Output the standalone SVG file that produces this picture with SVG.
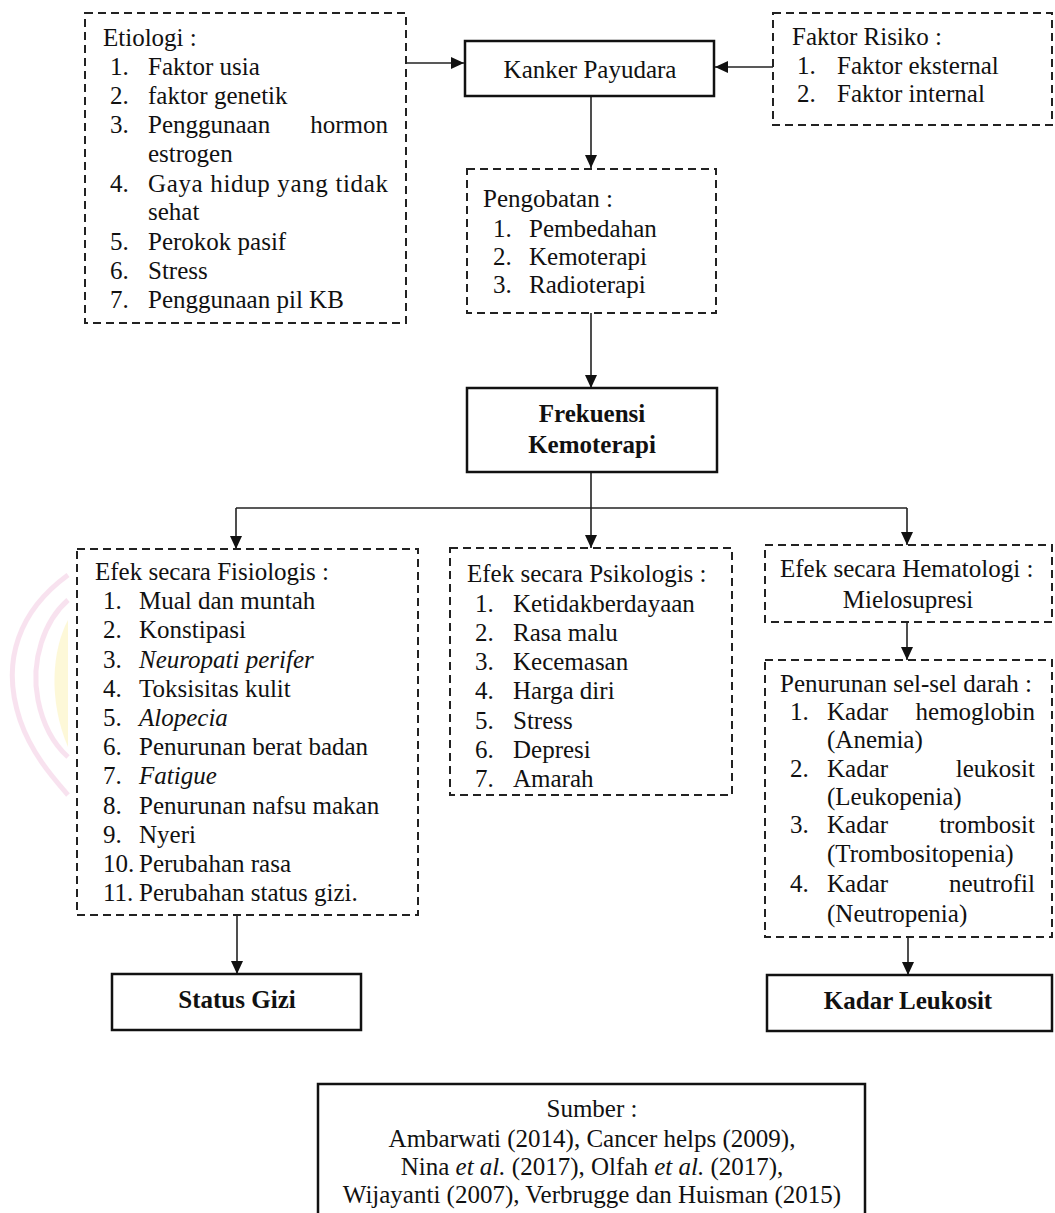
<svg xmlns="http://www.w3.org/2000/svg" width="1055" height="1213" viewBox="0 0 1055 1213">
<style>
.t{font-family:"Liberation Serif","Times New Roman",serif;font-size:25px;fill:#111}
.b{font-weight:bold}
.i{font-style:italic}
.m{text-anchor:middle}
.e{text-anchor:end}
.dash{fill:#fff;stroke:#222;stroke-width:2;stroke-dasharray:8 5}
.solid{fill:#fff;stroke:#111;stroke-width:2.5}
.conn{stroke:#222;stroke-width:1.6;fill:none}
.arr{marker-end:url(#ah)}
</style>
<defs>
<marker id="ah" markerUnits="userSpaceOnUse" markerWidth="14" markerHeight="14" refX="13" refY="6" orient="auto">
<path d="M0,0 L13,6 L0,12 Z" fill="#111"/>
</marker>
</defs>
<rect width="1055" height="1213" fill="#fff"/>
<g id="watermark" opacity="0.4">
<path d="M68,620 C52,650 48,700 68,747 Z" fill="#fbf0a0"/>
<path d="M68,575 C20,610 0,660 20,720 C32,755 55,780 68,795" fill="none" stroke="#f0b8d8" stroke-width="5"/>
<path d="M68,600 C45,620 30,660 38,700 C44,730 58,748 68,757" fill="none" stroke="#f0b8d8" stroke-width="5"/>
</g>
<g id="connectors">
<path class="conn arr" d="M406,63 H464"/>
<path class="conn arr" d="M773,67 H715"/>
<path class="conn arr" d="M591,96 V168"/>
<path class="conn arr" d="M591,313 V388"/>
<path class="conn arr" d="M591,472 V548"/>
<path class="conn" d="M236,508 H907" stroke="#444"/>
<path class="conn arr" d="M236,508 V549"/>
<path class="conn arr" d="M907,508 V545"/>
<path class="conn arr" d="M907,622 V660"/>
<path class="conn arr" d="M237,915 V974"/>
<path class="conn arr" d="M908,937 V975"/>
</g>
<g id="etiologi">
<rect class="dash" x="85" y="13" width="321" height="310"/>
<text class="t" x="103" y="46">Etiologi :</text>
<text class="t" x="110" y="75">1.</text><text class="t" x="148" y="75">Faktor usia</text>
<text class="t" x="110" y="104">2.</text><text class="t" x="148" y="104">faktor genetik</text>
<text class="t" x="110" y="133">3.</text><text class="t" x="148" y="133">Penggunaan</text><text class="t e" x="388" y="133">hormon</text>
<text class="t" x="148" y="162">estrogen</text>
<text class="t" x="110" y="192">4.</text><text class="t" x="148" y="192" textLength="240" lengthAdjust="spacing">Gaya hidup yang tidak</text>
<text class="t" x="148" y="220">sehat</text>
<text class="t" x="110" y="250">5.</text><text class="t" x="148" y="250">Perokok pasif</text>
<text class="t" x="110" y="279">6.</text><text class="t" x="148" y="279">Stress</text>
<text class="t" x="110" y="308">7.</text><text class="t" x="148" y="308">Penggunaan pil KB</text>
</g>
<g id="kanker">
<rect class="solid" x="465" y="41" width="249" height="55"/>
<text class="t m" x="590" y="78">Kanker Payudara</text>
</g>
<g id="faktor-risiko">
<rect class="dash" x="773" y="13" width="279" height="112"/>
<text class="t" x="792" y="45">Faktor Risiko :</text>
<text class="t" x="797" y="74">1.</text><text class="t" x="837" y="74">Faktor eksternal</text>
<text class="t" x="797" y="102">2.</text><text class="t" x="837" y="102">Faktor internal</text>
</g>
<g id="pengobatan">
<rect class="dash" x="467" y="169" width="249" height="144"/>
<text class="t" x="483" y="207">Pengobatan :</text>
<text class="t" x="493" y="237">1.</text><text class="t" x="529" y="237">Pembedahan</text>
<text class="t" x="493" y="265">2.</text><text class="t" x="529" y="265">Kemoterapi</text>
<text class="t" x="493" y="293">3.</text><text class="t" x="529" y="293">Radioterapi</text>
</g>
<g id="frekuensi">
<rect class="solid" x="467" y="388" width="250" height="84"/>
<text class="t b m" x="592" y="422">Frekuensi</text>
<text class="t b m" x="592" y="453">Kemoterapi</text>
</g>
<g id="fisiologis">
<rect class="dash" x="77" y="549" width="341" height="366"/>
<text class="t" x="95" y="580">Efek secara Fisiologis :</text>
<text class="t" x="103" y="609">1.</text><text class="t" x="139" y="609">Mual dan muntah</text>
<text class="t" x="103" y="638">2.</text><text class="t" x="139" y="638">Konstipasi</text>
<text class="t" x="103" y="668">3.</text><text class="t i" x="139" y="668">Neuropati perifer</text>
<text class="t" x="103" y="697">4.</text><text class="t" x="139" y="697">Toksisitas kulit</text>
<text class="t" x="103" y="726">5.</text><text class="t i" x="139" y="726">Alopecia</text>
<text class="t" x="103" y="755">6.</text><text class="t" x="139" y="755">Penurunan berat badan</text>
<text class="t" x="103" y="784">7.</text><text class="t i" x="139" y="784">Fatigue</text>
<text class="t" x="103" y="814">8.</text><text class="t" x="139" y="814">Penurunan nafsu makan</text>
<text class="t" x="103" y="843">9.</text><text class="t" x="139" y="843">Nyeri</text>
<text class="t" x="103" y="872">10.</text><text class="t" x="139" y="872">Perubahan rasa</text>
<text class="t" x="103" y="901">11.</text><text class="t" x="139" y="901">Perubahan status gizi.</text>
</g>
<g id="psikologis">
<rect class="dash" x="450" y="548" width="282" height="247"/>
<text class="t" x="467" y="582">Efek secara Psikologis :</text>
<text class="t" x="475" y="612">1.</text><text class="t" x="513" y="612">Ketidakberdayaan</text>
<text class="t" x="475" y="641">2.</text><text class="t" x="513" y="641">Rasa malu</text>
<text class="t" x="475" y="670">3.</text><text class="t" x="513" y="670">Kecemasan</text>
<text class="t" x="475" y="699">4.</text><text class="t" x="513" y="699">Harga diri</text>
<text class="t" x="475" y="729">5.</text><text class="t" x="513" y="729">Stress</text>
<text class="t" x="475" y="758">6.</text><text class="t" x="513" y="758">Depresi</text>
<text class="t" x="475" y="787">7.</text><text class="t" x="513" y="787">Amarah</text>
</g>
<g id="hematologi">
<rect class="dash" x="765" y="545" width="287" height="77"/>
<text class="t" x="780" y="577">Efek secara Hematologi :</text>
<text class="t m" x="908" y="608">Mielosupresi</text>
</g>
<g id="penurunan">
<rect class="dash" x="765" y="660" width="287" height="277"/>
<text class="t" x="780" y="692">Penurunan sel-sel darah :</text>
<text class="t" x="790" y="720">1.</text><text class="t" x="827" y="720">Kadar</text><text class="t e" x="1035" y="720">hemoglobin</text>
<text class="t" x="827" y="748">(Anemia)</text>
<text class="t" x="790" y="777">2.</text><text class="t" x="827" y="777">Kadar</text><text class="t e" x="1035" y="777">leukosit</text>
<text class="t" x="827" y="805">(Leukopenia)</text>
<text class="t" x="790" y="833">3.</text><text class="t" x="827" y="833">Kadar</text><text class="t e" x="1035" y="833">trombosit</text>
<text class="t" x="827" y="862">(Trombositopenia)</text>
<text class="t" x="790" y="892">4.</text><text class="t" x="827" y="892">Kadar</text><text class="t e" x="1035" y="892">neutrofil</text>
<text class="t" x="827" y="922">(Neutropenia)</text>
</g>
<g id="status-gizi">
<rect class="solid" x="112" y="974" width="249" height="56"/>
<text class="t b m" x="237" y="1008">Status Gizi</text>
</g>
<g id="kadar-leukosit">
<rect class="solid" x="767" y="975" width="285" height="56"/>
<text class="t b m" x="908" y="1009">Kadar Leukosit</text>
</g>
<g id="sumber">
<rect class="solid" x="318" y="1084" width="547" height="150"/>
<text class="t m" x="592" y="1117">Sumber :</text>
<text class="t m" x="592" y="1147">Ambarwati (2014), Cancer helps (2009),</text>
<text class="t m" x="592" y="1175">Nina <tspan class="i">et al.</tspan> (2017), Olfah <tspan class="i">et al.</tspan> (2017),</text>
<text class="t m" x="592" y="1203">Wijayanti (2007), Verbrugge dan Huisman (2015)</text>
</g>
</svg>
